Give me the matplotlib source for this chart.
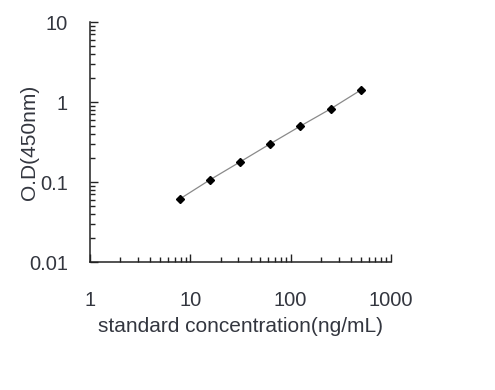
import matplotlib
matplotlib.use("Agg")
import matplotlib.pyplot as plt
from matplotlib.ticker import LogLocator, NullFormatter, FixedLocator, FixedFormatter

plt.rcParams['font.family'] = ['Liberation Sans', 'DejaVu Sans']

# standard curve data
conc = [7.8, 15.6, 31.25, 62.5, 125, 250, 500]
od = [0.061, 0.106, 0.178, 0.30, 0.50, 0.82, 1.41]

x_ticks = [1, 10, 100, 1000]
x_labels = ["1", "10", "100", "1000"]
y_ticks = [0.01, 0.1, 1, 10]
y_labels = ["0.01", "0.1", "1", "10"]

text_col = "#33363f"

fig = plt.figure(figsize=(4.95, 3.9), dpi=100)
ax = fig.add_axes([90 / 495, 1 - 262 / 390, 301 / 495, 240 / 390])

ax.plot(conc, od, color="#8a8a8a", lw=0.9, zorder=1)
ax.plot(conc, od, ls="none", marker="D", ms=3.8, color="black", zorder=2)

ax.set_xscale("log")
ax.set_yscale("log")
ax.set_xlim(1, 1000)
ax.set_ylim(0.01, 10)

ax.xaxis.set_major_locator(FixedLocator(x_ticks))
ax.xaxis.set_major_formatter(FixedFormatter(x_labels))
ax.yaxis.set_major_locator(FixedLocator(y_ticks))
ax.yaxis.set_major_formatter(FixedFormatter(y_labels))
ax.xaxis.set_minor_locator(LogLocator(base=10, subs=range(2, 10)))
ax.yaxis.set_minor_locator(LogLocator(base=10, subs=range(2, 10)))
ax.xaxis.set_minor_formatter(NullFormatter())
ax.yaxis.set_minor_formatter(NullFormatter())

ax.spines["top"].set_visible(False)
ax.spines["right"].set_visible(False)
for s in ("left", "bottom"):
    ax.spines[s].set_linewidth(1.1)
    ax.spines[s].set_color("#222222")

ax.tick_params(which="major", direction="in", length=6, width=1, color="#222222",
               labelsize=14.5, labelcolor=text_col)
ax.tick_params(which="minor", direction="in", length=3.5, width=1, color="#222222")
ax.tick_params(axis="x", which="major", pad=21)
ax.tick_params(axis="y", which="major", pad=16)

ax.set_xlabel("standard concentration(ng/mL)", fontsize=15, color=text_col)
ax.set_ylabel("O.D(450nm)", fontsize=15, color=text_col)
ax.xaxis.set_label_coords(0.5, -64 / 240, transform=ax.transAxes)
ax.yaxis.set_label_coords(-60 / 301, 0.5, transform=ax.transAxes)
ax.xaxis.label.set_va("center")
ax.yaxis.label.set_va("center")

fig.savefig("out.png", dpi=100)
